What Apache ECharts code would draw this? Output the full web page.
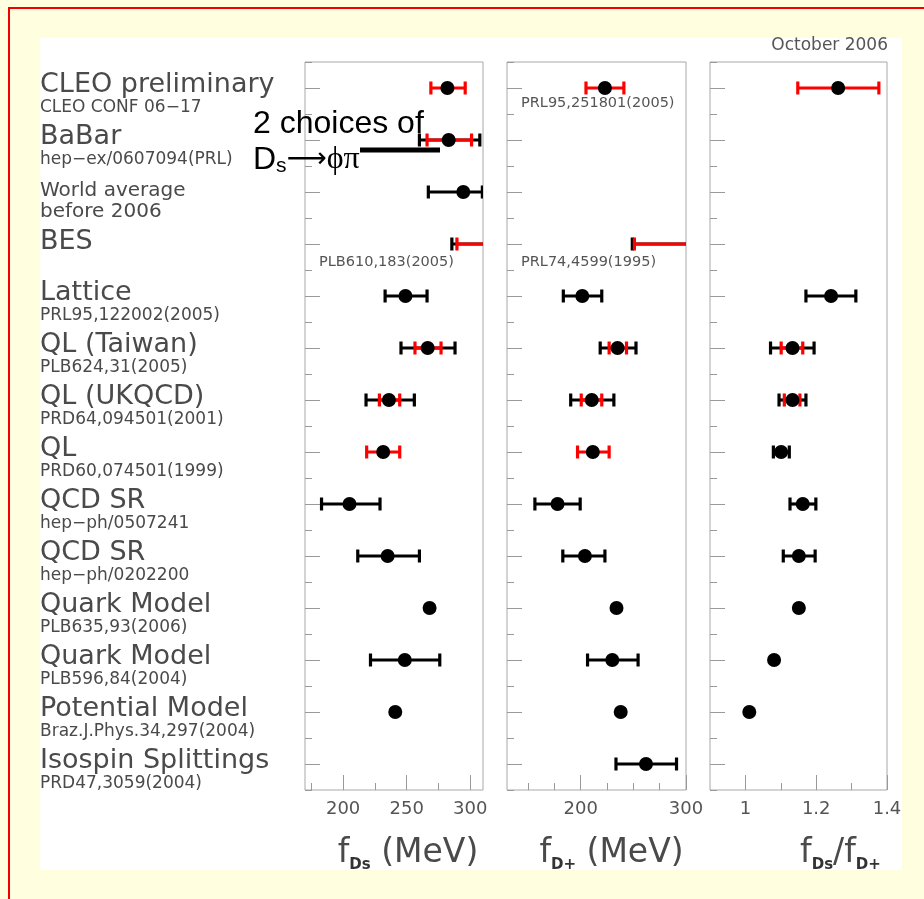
<!DOCTYPE html>
<html>
<head>
<meta charset="utf-8">
<script src="https://cdn.jsdelivr.net/npm/echarts@6/dist/echarts.min.js"></script>
<style>
  html, body { margin: 0; padding: 0; width: 924px; height: 899px; overflow: hidden; background: #ffffdf; }
  #frame { position: absolute; left: 8px; top: 7px; width: 1000px; height: 1000px; border: 2px solid #f20000; box-sizing: border-box; }
  #sheet { position: absolute; left: 40px; top: 38px; width: 862px; height: 832px; background: #ffffff; }
  #chart { position: absolute; left: 0; top: 0; width: 924px; height: 899px; }
</style>
</head>
<body>
<div id="frame"></div>
<div id="sheet"></div>
<div id="chart"></div>
<script>
// Rows, top to bottom
const rowNames = ['CLEO preliminary', 'BaBar', 'World average', 'BES', 'Lattice', 'QL (Taiwan)', 'QL (UKQCD)', 'QL',
  'QCD SR', 'QCD SR', 'Quark Model', 'Quark Model', 'Potential Model', 'Isospin Splittings'];
const rowRefs = ['CLEO CONF 06\u221217', 'hep\u2212ex/0607094(PRL)', 'before 2006', '', 'PRL95,122002(2005)', 'PLB624,31(2005)',
  'PRD64,094501(2001)', 'PRD60,074501(1999)', 'hep\u2212ph/0507241', 'hep\u2212ph/0202200', 'PLB635,93(2006)',
  'PLB596,84(2004)', 'Braz.J.Phys.34,297(2004)', 'PRD47,3059(2004)'];

// f_Ds (MeV): central value, total error range (black), partial error range (red)
const fdsValue  = [282, 283, 294.5, 430, 249, 266.5, 236, 231.5, 205, 235, 268, 248.5, 241, null];
const fdsBlackLo = [null, 260, 267, 285.5, 233, 245.5, 218, null, 183, 211.5, null, 221.5, null, null];
const fdsBlackHi = [null, 307.5, 309.5, 585, 266, 288, 256, null, 229, 260, null, 276, null, null];
const fdsRedLo  = [269, 266, null, 289.5, null, 256.5, 228.5, 218.5, null, null, null, null, null, null];
const fdsRedHi  = [296, 301, null, 580, null, 277, 244.5, 244.5, null, null, null, null, null, null];

// f_D+ (MeV)
const fdpValue  = [223, null, null, 371, 201.5, 235, 210.5, 211.5, 178, 204, 234, 230, 238, 262];
const fdpBlackLo = [null, null, null, 249, 183.5, 218.5, 190.5, null, 156.5, 183, null, 206.5, null, 233.5];
const fdpBlackHi = [null, null, null, 500, 220, 252.5, 231.5, null, 199.5, 223, null, 254.5, null, 291];
const fdpRedLo  = [205, null, null, 251, null, 227, 200.5, 197, null, null, null, null, null, null];
const fdpRedHi  = [241, null, null, 495, null, 243.5, 220, 227, null, null, null, null, null, null];

// f_Ds / f_D+
const ratioValue  = [1.262, null, null, null, 1.242, 1.133, 1.133, 1.101, 1.162, 1.151, 1.151, 1.081, 1.011, null];
const ratioBlackLo = [null, null, null, null, 1.171, 1.071, 1.095, 1.079, 1.126, 1.107, null, null, null, null];
const ratioBlackHi = [null, null, null, null, 1.312, 1.194, 1.171, 1.124, 1.199, 1.197, null, null, null, null];
const ratioRedLo  = [1.148, null, null, null, null, 1.101, 1.110, null, null, null, null, null, null, null];
const ratioRedHi  = [1.377, null, null, null, null, 1.162, 1.154, null, null, null, null, null, null, null];

// Axis ranges and tick positions
const fdsRange = [170, 310], fdsMajor = [200, 250, 300], fdsMinor = [175, 225, 275];
const fdpRange = [130, 300], fdpMajor = [200, 300], fdpMinor = [150, 175, 225, 250, 275];
const ratioRange = [0.9, 1.4], ratioMajor = [1, 1.2, 1.4], ratioMinor = [1.1, 1.3];

const rowKeys = rowNames.map((_, i) => String(i));
const TICK = '#9a9a9a';
const TEXT = '#4a4a4a';
const FONT = 'DejaVu Sans';

const grids = [
  { left: 305, top: 62, width: 178, height: 728 },
  { left: 507, top: 62, width: 179, height: 728 },
  { left: 710, top: 62, width: 177, height: 728 }
].map(g => Object.assign(g, { show: true, borderColor: '#a8a8a8', borderWidth: 1, backgroundColor: 'transparent',
  containLabel: false, outerBoundsMode: 'none' }));

const nameRich = {
  f: { fontFamily: FONT, fontSize: 33, color: TEXT, lineHeight: 40 },
  s: { fontFamily: FONT, fontSize: 15, fontWeight: 'bold', color: '#333', verticalAlign: 'bottom', lineHeight: 18 }
};

function xMajor(gi, range, ticks, fmt, name, padLeft) {
  return {
    type: 'value', gridIndex: gi, min: range[0], max: range[1], position: 'bottom',
    axisLine: { show: false, onZero: false }, splitLine: { show: false },
    axisTick: { show: true, inside: true, length: 15, customValues: ticks, lineStyle: { color: TICK, width: 1 } },
    axisLabel: { show: true, customValues: ticks, margin: 10, color: '#555', fontFamily: FONT, fontSize: 18, formatter: fmt },
    name: name, nameLocation: 'middle', nameGap: 43,
    nameTextStyle: { rich: nameRich, padding: [0, 0, 0, padLeft] }
  };
}
function xMinor(gi, range, ticks) {
  return {
    type: 'value', gridIndex: gi, min: range[0], max: range[1], position: 'bottom',
    axisLine: { show: false, onZero: false }, splitLine: { show: false },
    axisTick: { show: true, inside: true, length: 7, customValues: ticks, lineStyle: { color: TICK, width: 1 } },
    axisLabel: { show: false }
  };
}

const labelRich = {
  big: { fontFamily: FONT, fontSize: 27, color: TEXT, lineHeight: 40 },
  ref: { fontFamily: FONT, fontSize: 17, color: TEXT, lineHeight: 6 },
  wa1: { fontFamily: FONT, fontSize: 20, color: TEXT, lineHeight: 40 },
  wa2: { fontFamily: FONT, fontSize: 20, color: TEXT, lineHeight: 2 },
  one: { fontFamily: FONT, fontSize: 27, color: TEXT, lineHeight: 27, padding: [0, 0, 4, 0] }
};
function rowLabel(value) {
  const i = Number(value);
  if (i === 2) return '{wa1|' + rowNames[i] + '}\n{wa2|' + rowRefs[i] + '}';
  if (!rowRefs[i]) return '{one|' + rowNames[i] + '}';
  return '{big|' + rowNames[i] + '}\n{ref|' + rowRefs[i] + '}';
}

function yCenter(gi, showLabels) {
  return {
    type: 'category', gridIndex: gi, data: rowKeys, inverse: true, position: 'left',
    axisLine: { show: false, onZero: false }, splitLine: { show: false },
    axisTick: { show: true, inside: true, alignWithLabel: true, interval: 0, length: 15, lineStyle: { color: TICK, width: 1 } },
    axisLabel: showLabels
      ? { show: true, interval: 0, align: 'left', margin: 265, formatter: rowLabel, rich: labelRich }
      : { show: false }
  };
}
function yEdge(gi) {
  return {
    type: 'category', gridIndex: gi, data: rowKeys, inverse: true, position: 'left',
    axisLine: { show: false, onZero: false }, splitLine: { show: false },
    axisTick: { show: true, inside: true, alignWithLabel: false, interval: 0, length: 7, lineStyle: { color: TICK, width: 1 } },
    axisLabel: { show: false }
  };
}

function drawMeasurement(params, api) {
  const row = api.value(0);
  const centre = api.coord([api.value(1), row]);
  const y = centre[1];
  const kids = [];
  const addBar = (lo, hi, color) => {
    if (!isFinite(lo) || !isFinite(hi)) return;
    const x1 = api.coord([lo, row])[0];
    const x2 = api.coord([hi, row])[0];
    kids.push({ type: 'line', shape: { x1: x1, y1: y, x2: x2, y2: y }, style: { stroke: color, lineWidth: 3.2 } });
    [x1, x2].forEach(x => kids.push({ type: 'line', shape: { x1: x, y1: y - 6.5, x2: x, y2: y + 6.5 },
      style: { stroke: color, lineWidth: 3.2 } }));
  };
  addBar(api.value(2), api.value(3), '#000');
  addBar(api.value(4), api.value(5), '#f00');
  kids.push({ type: 'circle', shape: { cx: centre[0], cy: y, r: 7 }, style: { fill: '#000' } });
  return { type: 'group', children: kids };
}

function measurementSeries(gi, vals, bLo, bHi, rLo, rHi) {
  const data = [];
  vals.forEach((v, i) => {
    if (v == null) return;
    data.push([i, v, bLo[i], bHi[i], rLo[i], rHi[i]]);
  });
  return {
    type: 'custom', xAxisIndex: gi * 2, yAxisIndex: gi * 2, clip: true,
    encode: { x: 1, y: 0 }, renderItem: drawMeasurement, data: data, silent: true
  };
}

const fmtInt = v => String(v);
const fmtRatio = v => (Math.abs(v - 1) < 1e-9 ? '1' : v.toFixed(1));

const chart = echarts.init(document.getElementById('chart'), null, { renderer: 'canvas' });
chart.setOption({
  animation: false,
  backgroundColor: 'transparent',
  grid: grids,
  xAxis: [
    xMajor(0, fdsRange, fdsMajor, fmtInt, '{f|f}{s|Ds}{f| (MeV)}', 28), xMinor(0, fdsRange, fdsMinor),
    xMajor(1, fdpRange, fdpMajor, fmtInt, '{f|f}{s|D+}{f| (MeV)}', 30), xMinor(1, fdpRange, fdpMinor),
    xMajor(2, ratioRange, ratioMajor, fmtRatio, '{f|f}{s|Ds}{f|/f}{s|D+}', 84), xMinor(2, ratioRange, ratioMinor)
  ],
  yAxis: [
    yCenter(0, true), yEdge(0),
    yCenter(1, false), yEdge(1),
    yCenter(2, false), yEdge(2)
  ],
  series: [
    measurementSeries(0, fdsValue, fdsBlackLo, fdsBlackHi, fdsRedLo, fdsRedHi),
    measurementSeries(1, fdpValue, fdpBlackLo, fdpBlackHi, fdpRedLo, fdpRedHi),
    measurementSeries(2, ratioValue, ratioBlackLo, ratioBlackHi, ratioRedLo, ratioRedHi)
  ],
  graphic: [
    { type: 'text', x: 888, y: 46, z: 50,
      style: { text: 'October 2006', fontFamily: FONT, fontSize: 17, fill: '#555', align: 'right', verticalAlign: 'middle' } },
    { type: 'text', x: 319, y: 262, z: 50,
      style: { text: 'PLB610,183(2005)', fontFamily: FONT, fontSize: 14.5, fill: '#555', align: 'left', verticalAlign: 'middle' } },
    { type: 'text', x: 521, y: 103, z: 50,
      style: { text: 'PRL95,251801(2005)', fontFamily: FONT, fontSize: 14.5, fill: '#555', align: 'left', verticalAlign: 'middle' } },
    { type: 'text', x: 521, y: 262, z: 50,
      style: { text: 'PRL74,4599(1995)', fontFamily: FONT, fontSize: 14.5, fill: '#555', align: 'left', verticalAlign: 'middle' } },
    { type: 'text', x: 253, y: 124, z: 100,
      style: { text: '2 choices of', fontFamily: 'Liberation Sans', fontSize: 32, fill: '#000', align: 'left', verticalAlign: 'middle' } },
    { type: 'text', x: 253, y: 160, z: 100,
      style: {
        text: '{d|D}{s|s}{a|\u27f6}{g|\u03d5\u03c0}', align: 'left', verticalAlign: 'middle',
        rich: {
          d: { fontFamily: 'Liberation Sans', fontSize: 32, fill: '#000', lineHeight: 34 },
          s: { fontFamily: 'Liberation Sans', fontSize: 21, fill: '#000', lineHeight: 18, verticalAlign: 'bottom' },
          a: { fontFamily: 'DejaVu Sans', fontSize: 28, fill: '#000', lineHeight: 34 },
          g: { fontFamily: 'Liberation Serif', fontSize: 32, fill: '#000', lineHeight: 34 }
        }
      } },
    { type: 'line', z: 100, shape: { x1: 360, y1: 150, x2: 440, y2: 150 }, style: { stroke: '#000', lineWidth: 5 } }
  ]
});
</script>
</body>
</html>
